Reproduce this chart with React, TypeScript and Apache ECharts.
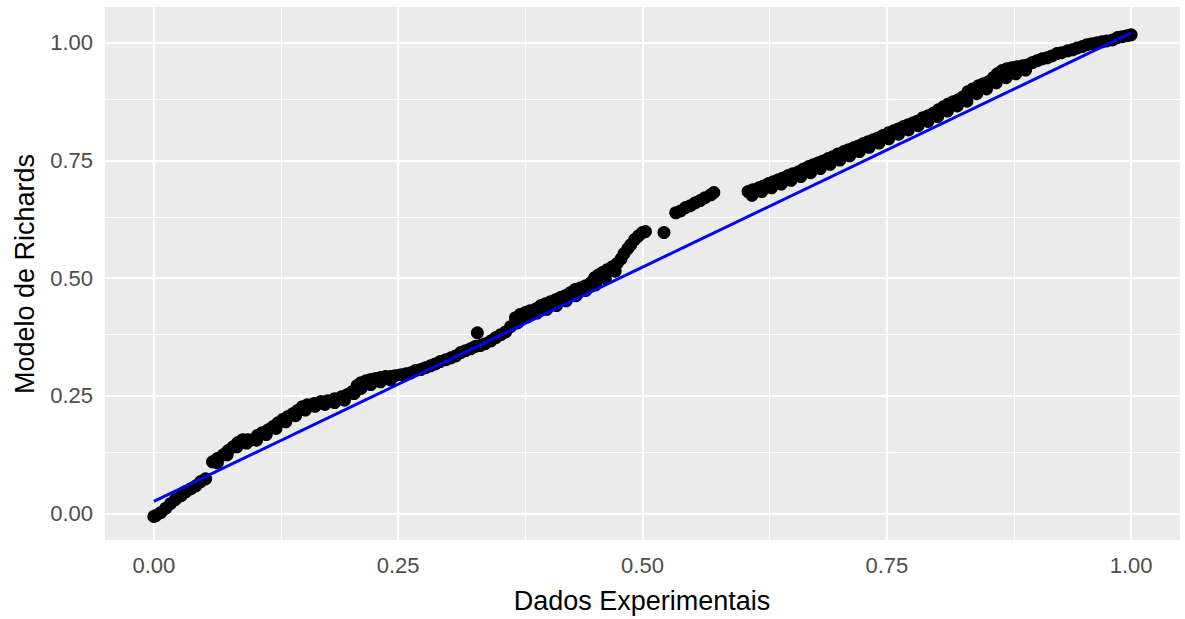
import React, { useEffect, useRef } from "react";
import * as echarts from "echarts";

// Observed (Dados Experimentais) vs. fitted (Modelo de Richards) pairs, split into continuous runs
const runStart: [number, number][] = [
  [0.0, -0.006], [0.002, -0.004], [0.007, 0.002], [0.012, 0.011], [0.017, 0.021], [0.022, 0.03],
  [0.028, 0.038], [0.033, 0.047], [0.038, 0.053], [0.043, 0.059], [0.048, 0.068], [0.053, 0.074],
];

const runEarly: [number, number][] = [
  [0.06, 0.11], [0.065, 0.117], [0.071, 0.125], [0.076, 0.134], [0.081, 0.142], [0.086, 0.151],
  [0.091, 0.157], [0.096, 0.157], [0.101, 0.157], [0.106, 0.166], [0.111, 0.172], [0.117, 0.178],
  [0.122, 0.185], [0.127, 0.193], [0.132, 0.2], [0.137, 0.206], [0.142, 0.212], [0.147, 0.219],
  [0.152, 0.227], [0.157, 0.231], [0.164, 0.234], [0.171, 0.238], [0.178, 0.24], [0.185, 0.244],
  [0.192, 0.248], [0.198, 0.253], [0.203, 0.259], [0.208, 0.272], [0.212, 0.278], [0.217, 0.282],
  [0.222, 0.285],
];

const runEarlyLower: [number, number][] = [
  [0.065, 0.108], [0.075, 0.125], [0.085, 0.142], [0.095, 0.15], [0.105, 0.156], [0.115, 0.168],
  [0.125, 0.181], [0.135, 0.195], [0.145, 0.208], [0.155, 0.22], [0.165, 0.228], [0.175, 0.232],
  [0.185, 0.236], [0.195, 0.241], [0.205, 0.255], [0.212, 0.266], [0.222, 0.274], [0.232, 0.28],
  [0.242, 0.284],
];

const runMiddle: [number, number][] = [
  [0.227, 0.287], [0.232, 0.289], [0.237, 0.291], [0.242, 0.291], [0.247, 0.293], [0.253, 0.295],
  [0.258, 0.297], [0.263, 0.299], [0.268, 0.304], [0.273, 0.306], [0.278, 0.31], [0.283, 0.314],
  [0.288, 0.318], [0.293, 0.323], [0.299, 0.327], [0.304, 0.331], [0.309, 0.335], [0.314, 0.342],
  [0.319, 0.346], [0.324, 0.35], [0.329, 0.355], [0.331, 0.384], [0.334, 0.357], [0.339, 0.361],
  [0.345, 0.367], [0.35, 0.374], [0.355, 0.38], [0.36, 0.386], [0.365, 0.397], [0.37, 0.416],
  [0.375, 0.423], [0.38, 0.427], [0.385, 0.431], [0.391, 0.435], [0.396, 0.442], [0.401, 0.446],
  [0.406, 0.45], [0.411, 0.454], [0.416, 0.459], [0.421, 0.463], [0.426, 0.469], [0.431, 0.476],
  [0.437, 0.48], [0.442, 0.484], [0.447, 0.49], [0.451, 0.501], [0.455, 0.507], [0.459, 0.512],
  [0.464, 0.518], [0.469, 0.524], [0.474, 0.531], [0.478, 0.541], [0.481, 0.552], [0.485, 0.563],
  [0.488, 0.571], [0.492, 0.582], [0.496, 0.59], [0.5, 0.597], [0.503, 0.599],
];

const runMiddleLower: [number, number][] = [
  [0.372, 0.405], [0.382, 0.418], [0.392, 0.426], [0.402, 0.434], [0.412, 0.442], [0.422, 0.452],
  [0.432, 0.463], [0.442, 0.474], [0.452, 0.486], [0.462, 0.5], [0.472, 0.515],
];

const runIsolated: [number, number][] = [[0.522, 0.597]];

const runShort: [number, number][] = [
  [0.534, 0.639], [0.539, 0.643], [0.544, 0.65], [0.549, 0.654], [0.554, 0.66], [0.559, 0.665],
  [0.564, 0.671], [0.57, 0.677], [0.573, 0.682],
];

const runLate: [number, number][] = [
  [0.608, 0.684], [0.613, 0.688], [0.619, 0.692], [0.624, 0.696], [0.629, 0.701], [0.634, 0.705],
  [0.639, 0.709], [0.644, 0.713], [0.649, 0.718], [0.654, 0.722], [0.66, 0.726], [0.665, 0.732],
  [0.67, 0.737], [0.675, 0.741], [0.68, 0.745], [0.685, 0.749], [0.69, 0.754], [0.695, 0.758],
  [0.7, 0.764], [0.706, 0.769], [0.711, 0.773], [0.716, 0.777], [0.721, 0.781], [0.726, 0.786],
  [0.731, 0.79], [0.736, 0.794], [0.741, 0.798], [0.746, 0.803], [0.752, 0.809], [0.757, 0.813],
  [0.762, 0.817], [0.767, 0.822], [0.772, 0.826], [0.777, 0.83], [0.782, 0.834], [0.787, 0.841],
  [0.792, 0.845], [0.798, 0.851], [0.803, 0.858], [0.808, 0.864], [0.813, 0.87], [0.818, 0.875],
  [0.823, 0.879], [0.828, 0.885], [0.833, 0.896], [0.838, 0.902], [0.844, 0.909], [0.849, 0.913],
  [0.854, 0.917], [0.859, 0.926], [0.863, 0.934], [0.868, 0.941], [0.873, 0.945], [0.878, 0.947],
  [0.883, 0.949], [0.889, 0.951], [0.894, 0.953], [0.899, 0.958], [0.904, 0.962], [0.909, 0.966],
  [0.914, 0.968], [0.919, 0.972], [0.924, 0.977], [0.929, 0.979], [0.935, 0.983], [0.94, 0.985],
  [0.945, 0.989], [0.95, 0.992], [0.955, 0.996], [0.96, 0.998], [0.965, 1.0], [0.97, 1.002],
  [0.975, 1.004], [0.981, 1.006], [0.986, 1.011], [0.991, 1.013], [0.996, 1.015], [1.0, 1.017],
];

const runLateLower: [number, number][] = [
  [0.612, 0.676], [0.622, 0.684], [0.632, 0.692], [0.642, 0.7], [0.652, 0.708], [0.662, 0.716],
  [0.672, 0.724], [0.682, 0.733], [0.692, 0.742], [0.702, 0.751], [0.712, 0.76], [0.722, 0.769],
  [0.732, 0.778], [0.742, 0.787], [0.752, 0.796], [0.762, 0.806], [0.772, 0.815], [0.782, 0.824],
  [0.792, 0.833], [0.802, 0.843], [0.812, 0.855], [0.822, 0.866], [0.832, 0.876], [0.842, 0.892],
  [0.852, 0.902], [0.862, 0.915], [0.872, 0.926], [0.882, 0.934], [0.892, 0.942],
];

// Linear fit endpoints
const fitLine: [number, number][] = [[0, 0.026], [1, 1.021]];

// Axis breaks
const majorBreaks = [0, 0.25, 0.5, 0.75, 1];
const minorBreaks = [0.125, 0.375, 0.625, 0.875];
const tickLabels = ["0.00", "0.25", "0.50", "0.75", "1.00"];

const FONT = "'Liberation Sans', Arial, Helvetica, sans-serif";

export default function App() {
  const ref = useRef<HTMLDivElement>(null);

  useEffect(() => {
    if (!ref.current) return;
    const chart = echarts.init(ref.current, undefined, { renderer: "svg" });

    const labelFor = (v: number) => {
      const i = majorBreaks.findIndex((b) => Math.abs(b - v) < 1e-9);
      return i >= 0 ? tickLabels[i] : "";
    };

    const gridLines = [
      ...majorBreaks.map((v) => ({ xAxis: v, lineStyle: { color: "#ffffff", width: 2.2, type: "solid" } })),
      ...minorBreaks.map((v) => ({ xAxis: v, lineStyle: { color: "#ffffff", width: 1.1, type: "solid" } })),
      ...majorBreaks.map((v) => ({ yAxis: v, lineStyle: { color: "#ffffff", width: 2.2, type: "solid" } })),
      ...minorBreaks.map((v) => ({ yAxis: v, lineStyle: { color: "#ffffff", width: 1.1, type: "solid" } })),
    ];

    const points = [
      ...runStart,
      ...runEarly,
      ...runEarlyLower,
      ...runMiddle,
      ...runMiddleLower,
      ...runIsolated,
      ...runShort,
      ...runLate,
      ...runLateLower,
    ];

    const axisCommon = {
      type: "value" as const,
      axisLine: { show: false },
      splitLine: { show: false },
      axisTick: {
        show: true,
        length: 5,
        lineStyle: { color: "#333333", width: 1.5 },
        customValues: majorBreaks,
      },
      axisLabel: {
        customValues: majorBreaks,
        formatter: (v: number) => labelFor(v),
        color: "#4d4d4d",
        fontSize: 22,
        fontFamily: FONT,
      },
    };

    chart.setOption({
      animation: false,
      backgroundColor: "#ffffff",
      grid: {
        left: 105,
        right: 5,
        top: 7,
        bottom: 79,
        show: true,
        backgroundColor: "#ebebeb",
        borderWidth: 0,
      },
      xAxis: {
        ...axisCommon,
        min: -0.05,
        max: 1.05,
        axisLabel: { ...axisCommon.axisLabel, margin: 14 },
      },
      yAxis: {
        ...axisCommon,
        min: -0.056,
        max: 1.076,
        axisLabel: { ...axisCommon.axisLabel, margin: 12 },
      },
      graphic: [
        {
          type: "text",
          x: 642,
          y: 601,
          style: {
            text: "Dados Experimentais",
            fill: "#000000",
            font: `27px ${FONT}`,
            textAlign: "center",
            textVerticalAlign: "middle",
          },
        },
        {
          type: "text",
          x: 25,
          y: 274,
          rotation: Math.PI / 2,
          style: {
            text: "Modelo de Richards",
            fill: "#000000",
            font: `27px ${FONT}`,
            textAlign: "center",
            textVerticalAlign: "middle",
          },
        },
      ],
      series: [
        {
          name: "grade",
          type: "line",
          data: fitLine,
          showSymbol: false,
          silent: true,
          z: 1,
          lineStyle: { opacity: 0 },
          markLine: {
            z: 1,
            silent: true,
            symbol: ["none", "none"],
            label: { show: false },
            emphasis: { disabled: true },
            data: gridLines,
          },
        },
        {
          name: "Modelo de Richards",
          type: "scatter",
          data: points,
          symbol: "circle",
          symbolSize: 13,
          itemStyle: { color: "#000000", opacity: 1 },
          z: 3,
        },
        {
          name: "Ajuste",
          type: "line",
          data: fitLine,
          showSymbol: false,
          z: 4,
          lineStyle: { color: "#0000ff", width: 3 },
        },
      ],
    });

    return () => chart.dispose();
  }, []);

  return (
    <div
      ref={ref}
      style={{ position: "fixed", left: 0, top: 0, width: 1185, height: 619, background: "#ffffff" }}
    />
  );
}
